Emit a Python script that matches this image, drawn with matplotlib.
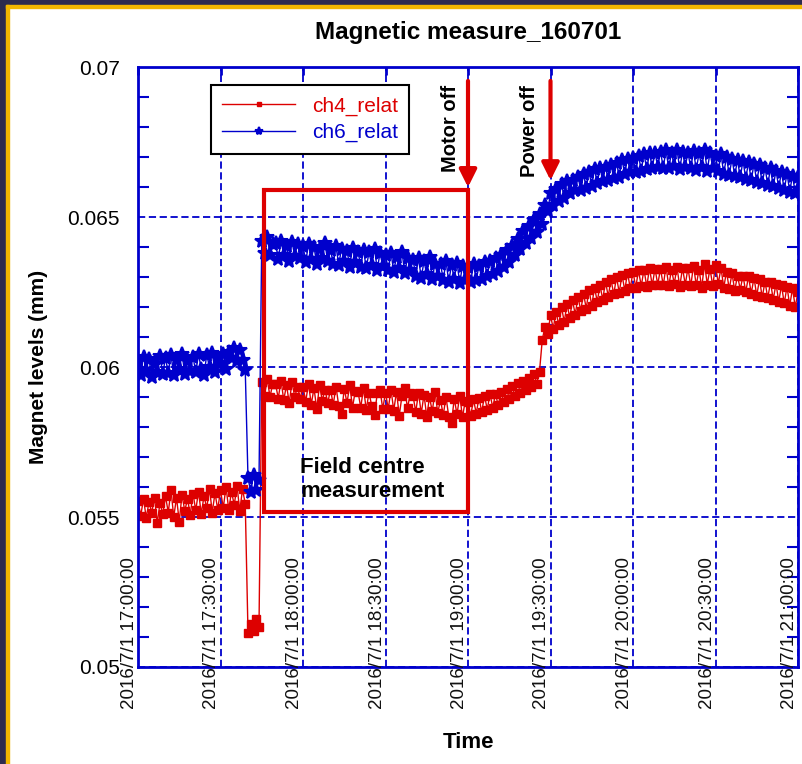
import numpy as np
import matplotlib
matplotlib.use('Agg')
import matplotlib.pyplot as plt
from matplotlib.patches import Rectangle
import matplotlib.transforms as mtransforms

plt.rcParams['font.family'] = ['Liberation Sans', 'DejaVu Sans']

# Time in minutes after 2016/7/1 17:00:00, one reading per minute
minutes = np.arange(241)

tick_minutes = [0, 30, 60, 90, 120, 150, 180, 210, 240]
tick_labels = ['2016/7/1 17:00:00', '2016/7/1 17:30:00', '2016/7/1 18:00:00',
               '2016/7/1 18:30:00', '2016/7/1 19:00:00', '2016/7/1 19:30:00',
               '2016/7/1 20:00:00', '2016/7/1 20:30:00', '2016/7/1 21:00:00']
y_ticks = [0.05, 0.055, 0.06, 0.065, 0.07]
y_tick_labels = ['0.05', '0.055', '0.06', '0.065', '0.07']

ch4_relat = [
    0.05555, 0.05505, 0.05560, 0.05498, 0.05550, 0.05515, 0.05565, 0.05480, 0.05548, 0.05510,
    0.05570, 0.05515, 0.05590, 0.05500, 0.05565, 0.05485, 0.05575, 0.05520, 0.05560, 0.05508,
    0.05578, 0.05522, 0.05585, 0.05510, 0.05570, 0.05530, 0.05595, 0.05515, 0.05580, 0.05525,
    0.05590, 0.05530, 0.05600, 0.05525, 0.05585, 0.05540, 0.05605, 0.05520, 0.05592, 0.05545,
    0.05115, 0.05145, 0.05120, 0.05160, 0.05135,
    0.05950, 0.05905, 0.05960, 0.05900, 0.05945,
    0.05945, 0.05895, 0.05955, 0.05890, 0.05940, 0.05880, 0.05950, 0.05900, 0.05935, 0.05895,
    0.05935, 0.05885, 0.05945, 0.05875, 0.05930, 0.05860, 0.05940, 0.05888, 0.05925, 0.05880,
    0.05925, 0.05875, 0.05935, 0.05870, 0.05845, 0.05928, 0.05880, 0.05940, 0.05865, 0.05920,
    0.05918, 0.05865, 0.05930, 0.05858, 0.05915, 0.05870, 0.05840, 0.05912, 0.05925, 0.05860,
    0.05915, 0.05860, 0.05925, 0.05855, 0.05918, 0.05838, 0.05905, 0.05930, 0.05862, 0.05912,
    0.05905, 0.05850, 0.05915, 0.05845, 0.05908, 0.05835, 0.05900, 0.05852, 0.05918, 0.05848,
    0.05890, 0.05840, 0.05900, 0.05835, 0.05815, 0.05895, 0.05842, 0.05905, 0.05832, 0.05888,
    0.05882, 0.05838, 0.05892, 0.05845, 0.05898, 0.05850, 0.05905, 0.05858, 0.05910, 0.05865,
    0.05910, 0.05872, 0.05918, 0.05885, 0.05928, 0.05895, 0.05938, 0.05905, 0.05948, 0.05915,
    0.05955, 0.05925, 0.05965, 0.05935, 0.05978, 0.05945, 0.05985, 0.06090, 0.06135, 0.06110,
    0.06172, 0.06128, 0.06185, 0.06140, 0.06200, 0.06150, 0.06210, 0.06165, 0.06222, 0.06175,
    0.06235, 0.06188, 0.06245, 0.06195, 0.06258, 0.06205, 0.06265, 0.06218, 0.06272, 0.06225,
    0.06285, 0.06235, 0.06292, 0.06242, 0.06300, 0.06248, 0.06308, 0.06255, 0.06315, 0.06262,
    0.06318, 0.06265, 0.06322, 0.06270, 0.06325, 0.06268, 0.06330, 0.06272, 0.06328, 0.06275,
    0.06328, 0.06272, 0.06335, 0.06270, 0.06325, 0.06278, 0.06332, 0.06268, 0.06330, 0.06275,
    0.06330, 0.06270, 0.06338, 0.06272, 0.06325, 0.06265, 0.06345, 0.06275, 0.06328, 0.06270,
    0.06340, 0.06278, 0.06330, 0.06265, 0.06318, 0.06260, 0.06312, 0.06255, 0.06305, 0.06258,
    0.06305, 0.06250, 0.06302, 0.06245, 0.06298, 0.06238, 0.06292, 0.06232, 0.06285, 0.06230,
    0.06282, 0.06225, 0.06278, 0.06218, 0.06272, 0.06212, 0.06268, 0.06205, 0.06262, 0.06200, 0.06250,
]

ch6_relat = [
    0.06020, 0.05975, 0.06035, 0.05990, 0.06028, 0.05968, 0.06010, 0.05982, 0.06038, 0.05978,
    0.06030, 0.05980, 0.06040, 0.05972, 0.06025, 0.05995, 0.06045, 0.05978, 0.06020, 0.05988,
    0.06035, 0.05982, 0.06042, 0.05995, 0.05975, 0.06040, 0.06000, 0.06048, 0.05985, 0.06030,
    0.06015, 0.06045, 0.05995, 0.06050, 0.06030, 0.06065, 0.06020, 0.06058, 0.06025, 0.05990,
    0.05630, 0.05585, 0.05640, 0.05590, 0.05625,
    0.06420, 0.06380, 0.06435, 0.06375, 0.06410,
    0.06415, 0.06360, 0.06420, 0.06375, 0.06405, 0.06355, 0.06418, 0.06370, 0.06410, 0.06365,
    0.06405, 0.06350, 0.06410, 0.06360, 0.06400, 0.06345, 0.06395, 0.06365, 0.06412, 0.06352,
    0.06390, 0.06345, 0.06402, 0.06340, 0.06395, 0.06355, 0.06388, 0.06335, 0.06398, 0.06350,
    0.06385, 0.06335, 0.06390, 0.06330, 0.06382, 0.06340, 0.06395, 0.06325, 0.06380, 0.06338,
    0.06372, 0.06325, 0.06380, 0.06318, 0.06368, 0.06330, 0.06385, 0.06312, 0.06365, 0.06322,
    0.06358, 0.06305, 0.06362, 0.06298, 0.06352, 0.06310, 0.06368, 0.06295, 0.06345, 0.06302,
    0.06345, 0.06290, 0.06352, 0.06285, 0.06340, 0.06295, 0.06348, 0.06280, 0.06338, 0.06290,
    0.06335, 0.06285, 0.06342, 0.06290, 0.06338, 0.06295, 0.06350, 0.06305, 0.06352, 0.06310,
    0.06365, 0.06320, 0.06375, 0.06335, 0.06390, 0.06350, 0.06405, 0.06375, 0.06428, 0.06395,
    0.06455, 0.06412, 0.06470, 0.06430, 0.06490, 0.06450, 0.06510, 0.06478, 0.06540, 0.06520,
    0.06580, 0.06540, 0.06595, 0.06555, 0.06610, 0.06565, 0.06620, 0.06580, 0.06625, 0.06590,
    0.06635, 0.06590, 0.06642, 0.06598, 0.06650, 0.06605, 0.06660, 0.06612, 0.06665, 0.06620,
    0.06668, 0.06622, 0.06675, 0.06630, 0.06680, 0.06635, 0.06690, 0.06645, 0.06695, 0.06650,
    0.06698, 0.06650, 0.06705, 0.06655, 0.06710, 0.06660, 0.06712, 0.06665, 0.06715, 0.06668,
    0.06718, 0.06665, 0.06722, 0.06662, 0.06715, 0.06670, 0.06725, 0.06660, 0.06718, 0.06668,
    0.06715, 0.06662, 0.06720, 0.06658, 0.06712, 0.06668, 0.06722, 0.06655, 0.06715, 0.06665,
    0.06705, 0.06652, 0.06710, 0.06645, 0.06700, 0.06640, 0.06695, 0.06638, 0.06690, 0.06632,
    0.06688, 0.06628, 0.06682, 0.06622, 0.06678, 0.06618, 0.06672, 0.06612, 0.06665, 0.06608,
    0.06662, 0.06602, 0.06655, 0.06598, 0.06650, 0.06590, 0.06645, 0.06585, 0.06638, 0.06580, 0.06632,
]

RED = '#dd0000'
BLUE = '#0000cc'

fig = plt.figure(figsize=(8.02, 7.64), dpi=100)
ax = fig.add_axes([138 / 802, 97 / 764, 660 / 802, 600 / 764])

ax.plot(minutes, ch4_relat, color=RED, lw=1.0, marker='s', ms=6, label='ch4_relat')
ax.plot(minutes, ch6_relat, color=BLUE, lw=1.0, marker='*', ms=10, mew=1.5,
        label='ch6_relat')

ax.set_xlim(0, 240)
ax.set_ylim(0.05, 0.07)
ax.set_xticks(tick_minutes)
ax.set_xticklabels([])
ax.set_yticks(y_ticks)
ax.set_yticklabels(y_tick_labels, fontsize=15)
ax.set_yticks(np.arange(0.05, 0.0701, 0.001), minor=True)
ax.tick_params(axis='y', which='minor', direction='in', length=8, width=1.5,
               color=BLUE, left=True, right=True)
ax.tick_params(axis='y', which='major', direction='in', length=0, pad=13)
ax.tick_params(axis='x', which='major', direction='in', length=6, width=2,
               color=BLUE, top=True, bottom=False)
ax.grid(True, which='major', color=BLUE, ls=(0, (4, 2)), lw=1.3)
for sp in ax.spines.values():
    sp.set_color(BLUE)
    sp.set_linewidth(2)

# rotated time labels that straddle the bottom axis
trans = mtransforms.blended_transform_factory(ax.transData, ax.transAxes)
for t, lab in zip(tick_minutes, tick_labels):
    ax.text(t, 0.057, lab, transform=trans, rotation=90, ha='right', va='center',
            fontsize=13.5, color='#111111', clip_on=False)

ax.set_title('Magnetic measure_160701', fontsize=17.5, fontweight='bold', pad=20)
ax.set_ylabel('Magnet levels (mm)', fontsize=15, fontweight='bold', labelpad=14)
ax.text(0.5, -0.125, 'Time', transform=ax.transAxes, ha='center', va='center',
        fontsize=16, fontweight='bold')

leg = ax.legend(loc='upper left', bbox_to_anchor=(0.1106, 0.97), borderaxespad=0,
                fontsize=15, handlelength=3.5, markerscale=0.6, fancybox=False,
                framealpha=1, edgecolor='black', borderpad=0.55, labelspacing=0.35)
leg.get_frame().set_linewidth(1.5)
for txt, col in zip(leg.get_texts(), [RED, BLUE]):
    txt.set_color(col)

# field centre measurement box
ax.add_patch(Rectangle((45.8, 0.05517), 120 - 45.8, 0.0659 - 0.05517,
                       fill=False, edgecolor=RED, lw=3, zorder=5))
ax.text(59, 0.05625, 'Field centre\nmeasurement', fontsize=16, fontweight='bold',
        ha='left', va='center', multialignment='left', linespacing=1.15, zorder=6)

# event arrows
ax.annotate('', xy=(120, 0.0659), xytext=(120, 0.06963),
            arrowprops=dict(arrowstyle='-|>', color=RED, lw=3, mutation_scale=26))
ax.annotate('', xy=(150, 0.06613), xytext=(150, 0.06963),
            arrowprops=dict(arrowstyle='-|>', color=RED, lw=3, mutation_scale=26))
ax.text(113.5, 0.0694, 'Motor off', rotation=90, ha='center', va='top',
        fontsize=14.5, fontweight='bold')
ax.text(142.5, 0.0694, 'Power off', rotation=90, ha='center', va='top',
        fontsize=14.5, fontweight='bold')

# frame around the picture
NAVY = '#2d2b4e'
GOLD = '#f2b600'
fig.add_artist(Rectangle((0, 1 - 5 / 764), 1, 5 / 764, transform=fig.transFigure,
                         color=NAVY, zorder=10))
fig.add_artist(Rectangle((0, 0), 6 / 802, 1, transform=fig.transFigure,
                         color=NAVY, zorder=10))
fig.add_artist(Rectangle((6 / 802, 1 - 8 / 764), 1, 3 / 764, transform=fig.transFigure,
                         color=GOLD, zorder=10))
fig.add_artist(Rectangle((6 / 802, 0), 3 / 802, 1 - 5 / 764, transform=fig.transFigure,
                         color=GOLD, zorder=10))

fig.savefig('out.png', dpi=100)
